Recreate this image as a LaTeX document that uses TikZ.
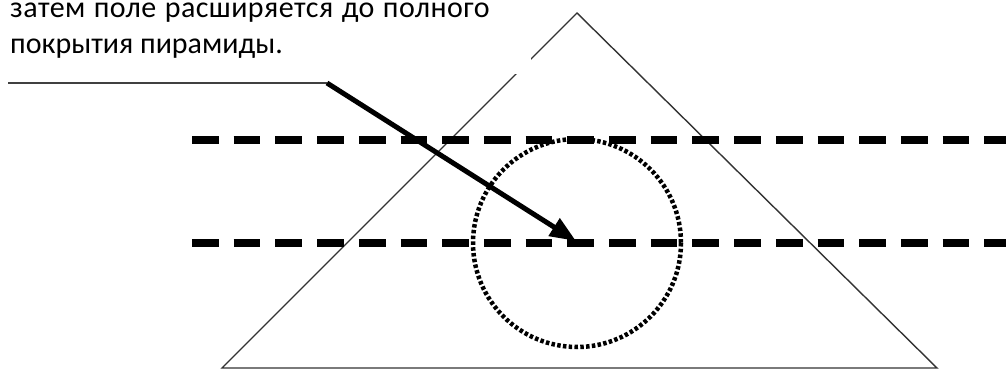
\documentclass[tikz,border=0pt]{standalone}
\usepackage{fontspec}
\setmainfont{Carlito}
\usetikzlibrary{arrows.meta}
\begin{document}
\begin{tikzpicture}[x=1pt,y=-1pt,
  tri/.style={draw=black!80,line width=1.4pt,line join=miter},
  dashline/.style={draw=black,line width=8pt,dash pattern=on 26.7pt off 15pt},
  dotcirc/.style={draw=black,line width=4.5pt,dash pattern=on 3.5pt off 2.3pt},
  leader/.style={draw=black!75,line width=2.5pt},
  pointer/.style={draw=black,line width=5pt,-{Triangle[length=26pt,width=20pt]}},
  lbl/.style={anchor=base west,inner sep=0pt,font=\fontsize{30}{37}\selectfont}]
\useasboundingbox (0,0) rectangle (1006,369);
\fill[white] (0,0) rectangle (1006,369);
% pyramid
\coordinate (apex) at (577,13);
\coordinate (br) at (937,368);
\coordinate (bl) at (222,368);
\draw[tri] (apex) -- (br) -- (bl) -- cycle;
% white text area
\fill[white] (0,0) rectangle (531,74);
\node[lbl] (l1) at (10,18) {\addfontfeatures{LetterSpace=1.5}\spaceskip=8.5pt затем поле расширяется до полного};
\node[lbl] (l2) at (10,54) {покрытия пирамиды.};
% dashed lines
\coordinate (u1) at (192,140);
\coordinate (u2) at (1006,140);
\coordinate (d1) at (192,243);
\coordinate (d2) at (1006,243);
\draw[dashline] (u1) -- (u2);
\draw[dashline] (d1) -- (d2);
% dotted circle
\coordinate (c) at (577,243);
\draw[dotcirc] (c) circle (104);
% arrow
\coordinate (s) at (8,83);
\coordinate (bend) at (327,83);
\coordinate (tip) at (576,241);
\draw[leader] (s) -- (bend);
\draw[pointer] (bend) -- (tip);
\end{tikzpicture}
\end{document}
